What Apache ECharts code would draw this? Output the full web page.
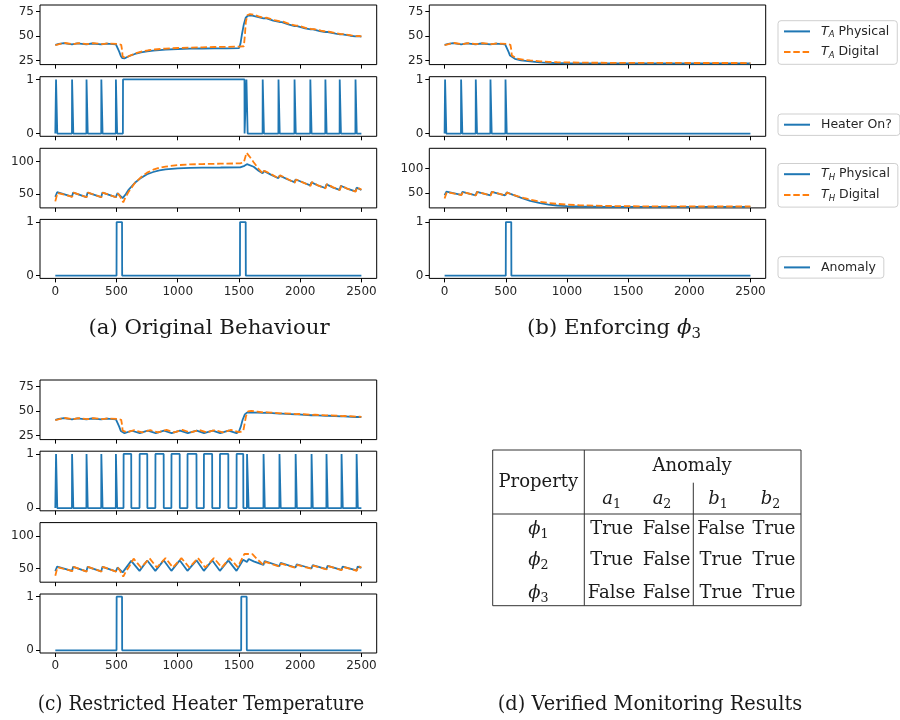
<!DOCTYPE html>
<html><head><meta charset="utf-8">
<script src="https://cdn.jsdelivr.net/npm/echarts@6/dist/echarts.min.js"></script>
<style>html,body{margin:0;padding:0;background:#fff}#c{width:900px;height:720px}</style>
</head><body><div id="c"></div>
<script>
// ---------- tick labels ----------
const xTicks = [0, 500, 1000, 1500, 2000, 2500];
const taTicks = [25, 50, 75];
const thTicks = [50, 100];
const binTicks = [0, 1];

// ---------- (a) Original Behaviour ----------
const aTAPhys = [[0,41],[30,41.8],[70,42.6],[136,41.3],[180,42.4],[254,41.4],[300,42.3],[375,41.4],[420,42.2],[495,41.5],[510,40],[522,34],[535,29.5],[548,27.3],[565,27.2],[600,29.3],[650,31.6],[700,33.2],[750,34.3],[800,35.1],[900,36.1],[1000,36.7],[1100,37],[1200,37.2],[1300,37.3],[1400,37.4],[1500,37.5],[1512,42],[1525,52],[1540,62],[1555,68.5],[1575,70.8],[1600,71],[1650,69.5],[1700,67.8],[1720,68],[1780,65.6],[1830,64.2],[1850,64.1],[1910,61.4],[1955,60],[1975,60],[2040,57.7],[2085,56.6],[2105,56.6],[2160,55],[2205,54],[2225,54],[2290,52.3],[2325,51.6],[2345,51.6],[2410,50.2],[2450,49.6],[2470,49.7],[2500,49.2]];
const aTADig = [[0,40.5],[40,42],[80,42.8],[146,41.6],[190,42.7],[264,41.7],[310,42.6],[385,41.7],[430,42.4],[505,41.8],[538,41],[545,36],[550,29],[558,27.2],[575,27.7],[610,30],[660,32.4],[710,34.2],[760,35.4],[810,36.2],[900,37.1],[1000,37.7],[1100,38.1],[1200,38.4],[1300,38.7],[1400,38.9],[1500,39.1],[1540,39.5],[1548,50],[1556,64],[1568,71],[1590,72.3],[1620,71.7],[1660,70],[1710,68.3],[1730,68.5],[1790,66],[1840,64.6],[1860,64.5],[1920,61.8],[1965,60.4],[1985,60.4],[2050,58],[2095,57],[2115,57],[2170,55.3],[2215,54.3],[2235,54.3],[2300,52.6],[2335,51.9],[2355,51.9],[2420,50.5],[2460,49.9],[2480,50],[2500,49.5]];
const aHeaterOn = [[5,15],[136,146],[254,264],[375,385],[494,504],[552,1545],[1560,1570],[1693,1703],[1822,1832],[1953,1963],[2082,2092],[2205,2215],[2322,2332],[2451,2461]];
const aTHPhys = [[0,46],[15,53],[136,46.3],[146,52.5],[254,45.6],[264,52.5],[375,45.6],[385,52.5],[494,45.6],[508,51.5],[550,44],[575,50],[600,57],[650,67.5],[700,75],[750,80.5],[800,84],[850,86.5],[900,88],[1000,89.7],[1100,90.4],[1200,90.7],[1350,90.9],[1510,91.2],[1545,93.5],[1565,96],[1580,97.5],[1620,92],[1660,86],[1693,82],[1703,85.5],[1760,80],[1822,74.5],[1832,78.5],[1900,72.5],[1953,68.5],[1963,72.5],[2030,67.5],[2082,63.5],[2092,68],[2150,63],[2205,59.5],[2215,65],[2270,60],[2322,56.5],[2332,63],[2390,58],[2451,54.2],[2461,60],[2500,56.5]];
const aTHDig = [[0,39],[18,52],[138,46],[150,52.5],[256,45.3],[268,52.5],[377,45.3],[389,52.5],[496,45.3],[512,51],[530,46],[555,37.5],[575,46],[600,54],[650,67],[700,76],[750,83],[800,87.5],[850,90.5],[900,92.3],[1000,94.5],[1100,95.6],[1200,96.2],[1350,96.7],[1510,97.2],[1540,99],[1562,113.5],[1585,108],[1620,99],[1660,89],[1695,81.5],[1708,86],[1765,80.5],[1824,74],[1836,79],[1900,73],[1955,67.5],[1967,72.5],[2030,67.3],[2084,62.8],[2096,68.5],[2150,63],[2207,59],[2219,65.5],[2270,60.5],[2324,56.3],[2336,63],[2390,58],[2453,53.7],[2465,60.5],[2500,57]];
const aAnomaly = [[500,545],[1508,1555]];

// ---------- (b) Enforcing phi3 ----------
const bTAPhys = [[0,41],[30,41.8],[70,42.6],[136,41.3],[180,42.4],[254,41.4],[300,42.3],[375,41.4],[420,42.2],[495,41.5],[510,40],[522,34],[535,30],[548,28.3],[575,26.7],[625,25.2],[700,24],[780,23.1],[850,22.7],[920,22.4],[1000,22.2],[1200,22],[1600,21.9],[2500,21.9]];
const bTADig = [[0,40.5],[40,42],[80,42.8],[146,41.6],[190,42.7],[264,41.7],[310,42.6],[385,41.7],[430,42.4],[505,41.8],[538,41],[545,36],[550,30],[560,28.3],[590,27],[640,25.9],[700,25],[780,24.1],[850,23.6],[920,23.2],[1000,23],[1200,22.7],[1600,22.5],[2500,22.4]];
const bHeaterOn = [[3,13],[134,144],[254,264],[374,384],[497,507]];
const bTHPhys = [[0,46],[15,53],[136,46.3],[146,52.5],[254,45.6],[264,52.5],[375,45.6],[385,52.5],[494,45.6],[508,51.5],[520,51.8],[560,46.5],[600,43],[646,38.6],[700,34.2],[782,29.6],[850,26.8],[919,24.9],[1000,23.6],[1100,22.8],[1300,22.2],[1600,22],[2500,22]];
const bTHDig = [[0,39],[18,52],[138,46],[150,52.5],[256,45.3],[268,52.5],[377,45.3],[389,52.5],[496,45.3],[512,51],[530,49.2],[560,46.8],[600,43.6],[646,40.3],[700,36.8],[782,32.4],[850,30],[919,28.2],[1000,26.7],[1100,25.4],[1300,24],[1600,23.2],[2000,22.9],[2500,22.8]];
const bAnomaly = [[500,545]];

// ---------- (c) Restricted Heater Temperature ----------
const cTAPhys = [[0,41],[30,41.8],[70,42.6],[136,41.3],[180,42.4],[254,41.4],[300,42.3],[375,41.4],[420,42.2],[495,41.5],[510,40],[522,34],[535,29.5],[548,27.5],[565,27.3],[625,29.8],[690,27.3],[755,29.9],[820,27.3],[888,30],[950,27.3],[1018,30],[1082,27.3],[1155,30],[1215,27.3],[1285,30],[1347,27.3],[1415,30],[1480,27.4],[1500,29],[1515,34],[1530,41],[1548,46.5],[1565,48.3],[1600,48.6],[1700,48],[1720,48.2],[1830,47.2],[1850,47.3],[1960,46.4],[1980,46.5],[2090,45.6],[2110,45.7],[2210,45],[2230,45.1],[2335,44.4],[2355,44.5],[2455,43.8],[2475,43.9],[2500,43.6]];
const cTADig = [[0,40.5],[40,42],[80,42.8],[146,41.6],[190,42.7],[264,41.7],[310,42.6],[385,41.7],[430,42.4],[505,41.8],[538,41],[545,36],[550,30],[560,28],[585,28.2],[645,30.4],[710,28.1],[775,30.5],[840,28.1],[908,30.6],[970,28.1],[1038,30.6],[1102,28.1],[1175,30.6],[1235,28.1],[1305,30.6],[1367,28.1],[1435,30.6],[1500,28.3],[1535,29.5],[1545,36],[1558,45],[1575,49.5],[1600,50],[1650,49.3],[1710,48.4],[1730,48.6],[1840,47.6],[1860,47.7],[1970,46.8],[1990,46.9],[2100,46],[2120,46.1],[2220,45.4],[2240,45.5],[2345,44.8],[2365,44.9],[2465,44.2],[2485,44.3],[2500,44]];
const cHeaterOn = [[5,15],[136,146],[254,264],[375,385],[494,504],[557,620],[688,751],[817,885],[948,1016],[1079,1153],[1213,1281],[1344,1413],[1480,1535],[1565,1578],[1700,1710],[1830,1840],[1962,1972],[2092,2102],[2214,2224],[2337,2347],[2460,2470]];
const cTHPhys = [[0,46],[15,53],[136,46.3],[146,52.5],[254,45.6],[264,52.5],[375,45.6],[385,52.5],[494,45.6],[508,51.5],[550,44],[557,45],[620,61.7],[688,46.4],[751,62.3],[817,46.4],[885,62.5],[948,46.4],[1016,62.5],[1079,46.4],[1153,62.5],[1213,46.4],[1281,62.5],[1344,46.4],[1413,62.5],[1480,46.4],[1535,63.5],[1565,60],[1580,64.5],[1620,61],[1700,55.5],[1710,61.5],[1830,53.5],[1840,58.5],[1962,51.5],[1972,56.5],[2092,50],[2102,55],[2214,49],[2224,54],[2337,48],[2347,53],[2460,47],[2470,53],[2500,51]];
const cTHDig = [[0,39],[18,52],[138,46],[150,52.5],[256,45.3],[268,52.5],[377,45.3],[389,52.5],[496,45.3],[512,51],[530,46],[555,37.5],[575,45],[600,52],[640,65],[700,51.5],[770,65.5],[830,51.5],[900,66],[960,51.5],[1030,66],[1095,51.5],[1165,66],[1225,51.5],[1295,66],[1360,51.5],[1425,66],[1490,52],[1545,72.5],[1610,72],[1650,64],[1702,55],[1715,60],[1832,53],[1845,57.5],[1964,51],[1977,55.5],[2094,49.5],[2107,54.5],[2216,48.5],[2229,53.5],[2339,47.5],[2352,52.5],[2462,46.5],[2475,53.5],[2500,51.5]];
const cAnomaly = [[500,545],[1518,1563]];

// ---------- (d) table ----------
const tableColHeads = [['a','1'],['a','2'],['b','1'],['b','2']];
const tableRowHeads = [['ϕ','1'],['ϕ','2'],['ϕ','3']];
const tableVals = [['True','False','False','True'],['True','False','True','True'],['False','False','True','True']];

const captions = ['(a) Original Behaviour', '(b) Enforcing ', '(c) Restricted Heater Temperature', '(d) Verified Monitoring Results'];

// ---------- layout ----------
const BLUE = '#1f77b4', ORANGE = '#ff7f0e';
const panels = [
  {left: 40, width: 336.7, tops: [5, 76.7, 148.3, 219.4], thMin: 29, thMax: 120.3,
   ta: [aTAPhys, aTADig], heat: aHeaterOn, th: [aTHPhys, aTHDig], an: aAnomaly},
  {left: 429.3, width: 336.4, tops: [5, 76.7, 148.3, 219.4], thMin: 20, thMax: 141,
   ta: [bTAPhys, bTADig], heat: bHeaterOn, th: [bTHPhys, bTHDig], an: bAnomaly},
  {left: 40, width: 336.7, tops: [380, 451.2, 522.6, 594], thMin: 29, thMax: 120.3,
   ta: [cTAPhys, cTADig], heat: cHeaterOn, th: [cTHPhys, cTHDig], an: cAnomaly}
];
const heights = [59.6, 59.6, 59.6, 59];

function pulses(iv) {
  const d = [[0, 0]];
  iv.forEach(([s, e]) => { d.push([s, 0], [s + 1, 1], [e, 1], [e + 1, 0]); });
  d.push([2500, 0]);
  return d;
}

const grids = [], xAxes = [], yAxes = [], series = [];
const tickFont = {fontFamily: 'DejaVu Sans', fontSize: 12, color: '#262626'};

function mkSeries(name, data, gi, color, dashed) {
  series.push({
    type: 'line', name, data, xAxisIndex: gi, yAxisIndex: gi,
    symbol: 'none', showSymbol: false, animation: false, silent: true,
    z: dashed ? 3 : 2,
    lineStyle: {color, width: 1.8, type: dashed ? [6.5, 2.8] : 'solid'},
    itemStyle: {color}
  });
}

panels.forEach((p, pi) => {
  const rows = [
    {min: 20.8, max: 81.5, ticks: taTicks},
    {min: -0.05, max: 1.05, ticks: binTicks},
    {min: p.thMin, max: p.thMax, ticks: thTicks},
    {min: -0.05, max: 1.05, ticks: binTicks}
  ];
  rows.forEach((r, ri) => {
    const gi = grids.length;
    grids.push({left: p.left, top: p.tops[ri], width: p.width, height: heights[ri],
      show: true, borderColor: '#000', borderWidth: 1, backgroundColor: 'transparent', containLabel: false});
    xAxes.push({gridIndex: gi, type: 'value', min: -125, max: 2625, position: 'bottom',
      axisLine: {show: false, onZero: false}, splitLine: {show: false},
      axisTick: {show: true, length: 4, customValues: xTicks, lineStyle: {color: '#000', width: 1}},
      axisLabel: {show: ri === 3, customValues: xTicks, margin: 7, formatter: v => String(v), ...tickFont}});
    yAxes.push({gridIndex: gi, type: 'value', min: r.min, max: r.max, position: 'left',
      axisLine: {show: false, onZero: false}, splitLine: {show: false},
      axisTick: {show: true, length: 4, customValues: r.ticks, lineStyle: {color: '#000', width: 1}},
      axisLabel: {show: true, customValues: r.ticks, margin: 6, formatter: v => String(v), ...tickFont}});
    if (ri === 0) { mkSeries('TA Physical', p.ta[0], gi, BLUE, false); mkSeries('TA Digital', p.ta[1], gi, ORANGE, true); }
    if (ri === 1) { mkSeries('Heater On?', pulses(p.heat), gi, BLUE, false); }
    if (ri === 2) { mkSeries('TH Physical', p.th[0], gi, BLUE, false); mkSeries('TH Digital', p.th[1], gi, ORANGE, true); }
    if (ri === 3) { mkSeries('Anomaly', pulses(p.an), gi, BLUE, false); }
  });
});

const legendRich = {
  p: {width: 6},
  i: {fontFamily: 'DejaVu Sans', fontStyle: 'italic', fontSize: 12.5, lineHeight: 16, color: '#262626'},
  s: {fontFamily: 'DejaVu Sans', fontStyle: 'italic', fontSize: 8.5, lineHeight: 10, verticalAlign: 'bottom', color: '#262626'},
  n: {fontFamily: 'DejaVu Sans', fontSize: 12.5, lineHeight: 16, color: '#262626'}
};
function legendFmt(name) {
  const m = name.match(/^T([AH]) (.*)$/);
  if (m) return '{p| }{i|T}{s|' + m[1] + '}{n| ' + m[2] + '}';
  return '{p| }{n|' + name + '}';
}
function mkLegend(data, top) {
  return {data, left: 778, top, orient: 'vertical', itemWidth: 26, itemHeight: 14, itemGap: 6.2,
    padding: [4.2, 8, 4.2, 5], borderColor: '#cfcfcf', borderWidth: 1, borderRadius: 3,
    backgroundColor: '#fff', selectedMode: false, formatter: legendFmt,
    itemStyle: {opacity: 0},
    textStyle: {fontFamily: 'DejaVu Sans', fontSize: 12.5, color: '#262626', rich: legendRich}};
}
const legends = [
  mkLegend(['TA Physical', 'TA Digital'], 20.7),
  mkLegend(['Heater On?'], 114),
  mkLegend(['TH Physical', 'TH Digital'], 163.5),
  mkLegend(['Anomaly'], 256.7)
];

// ---------- graphics: captions + table ----------
const SERIF = 'DejaVu Serif';
const INK = '#1a1a1a';
const graphics = [];
function txt(x, y, text, extra, el) {
  graphics.push(Object.assign({type: 'text', x, y, silent: true,
    style: Object.assign({text, fill: INK, fontFamily: SERIF, fontSize: 18, align: 'center', verticalAlign: 'middle'}, extra || {})}, el || {}));
}
function mathRich(fs) {
  return {
    m: {fontFamily: SERIF, fontStyle: 'italic', fontSize: fs, lineHeight: fs + 6, fill: INK},
    s: {fontFamily: SERIF, fontSize: fs * 0.7, lineHeight: fs * 0.75, verticalAlign: 'bottom', fill: INK},
    r: {fontFamily: SERIF, fontSize: fs, lineHeight: fs + 6, fill: INK}
  };
}
txt(209, 328, captions[0], {fontSize: 21.3});
txt(614, 328, '{r|' + captions[1] + '}{m|ϕ}{s|3}', {fontSize: 21.3, rich: mathRich(21.3)});
txt(201, 704, captions[2], {fontSize: 21.3}, {scaleX: 0.87});
txt(650, 704, captions[3], {fontSize: 21.3}, {scaleX: 0.91});

// table frame
const TX0 = 492.7, TX1 = 801, TY0 = 450, TY1 = 605.7;
graphics.push({type: 'rect', silent: true, shape: {x: TX0, y: TY0, width: TX1 - TX0, height: TY1 - TY0},
  style: {fill: 'none', stroke: '#333', lineWidth: 1}});
[[TX0, 514, TX1, 514], [584.3, TY0, 584.3, TY1], [693.3, 482.7, 693.3, TY1]].forEach(l => {
  graphics.push({type: 'line', silent: true, shape: {x1: l[0], y1: l[1], x2: l[2], y2: l[3]},
    style: {stroke: '#333', lineWidth: 1}});
});
const colX = [611.6, 666.5, 721, 774];
const headX = [611.6, 662, 718, 770.5];
const rowY = [529.5, 560, 593];
txt(538.3, 482, 'Property');
txt(692, 466, 'Anomaly');
tableColHeads.forEach((h, i) => txt(headX[i], 499, '{m|' + h[0] + '}{s|' + h[1] + '}', {rich: mathRich(18)}));
tableRowHeads.forEach((h, i) => txt(538.3, rowY[i], '{m|' + h[0] + '}{s|' + h[1] + '}', {rich: mathRich(18)}));
tableVals.forEach((row, i) => row.forEach((v, j) => txt(colX[j], rowY[i], v)));

const chart = echarts.init(document.getElementById('c'), null, {renderer: 'canvas'});
chart.setOption({
  animation: false,
  backgroundColor: '#fff',
  grid: grids, xAxis: xAxes, yAxis: yAxes, series,
  legend: legends,
  graphic: graphics
});
</script>
</body></html>
